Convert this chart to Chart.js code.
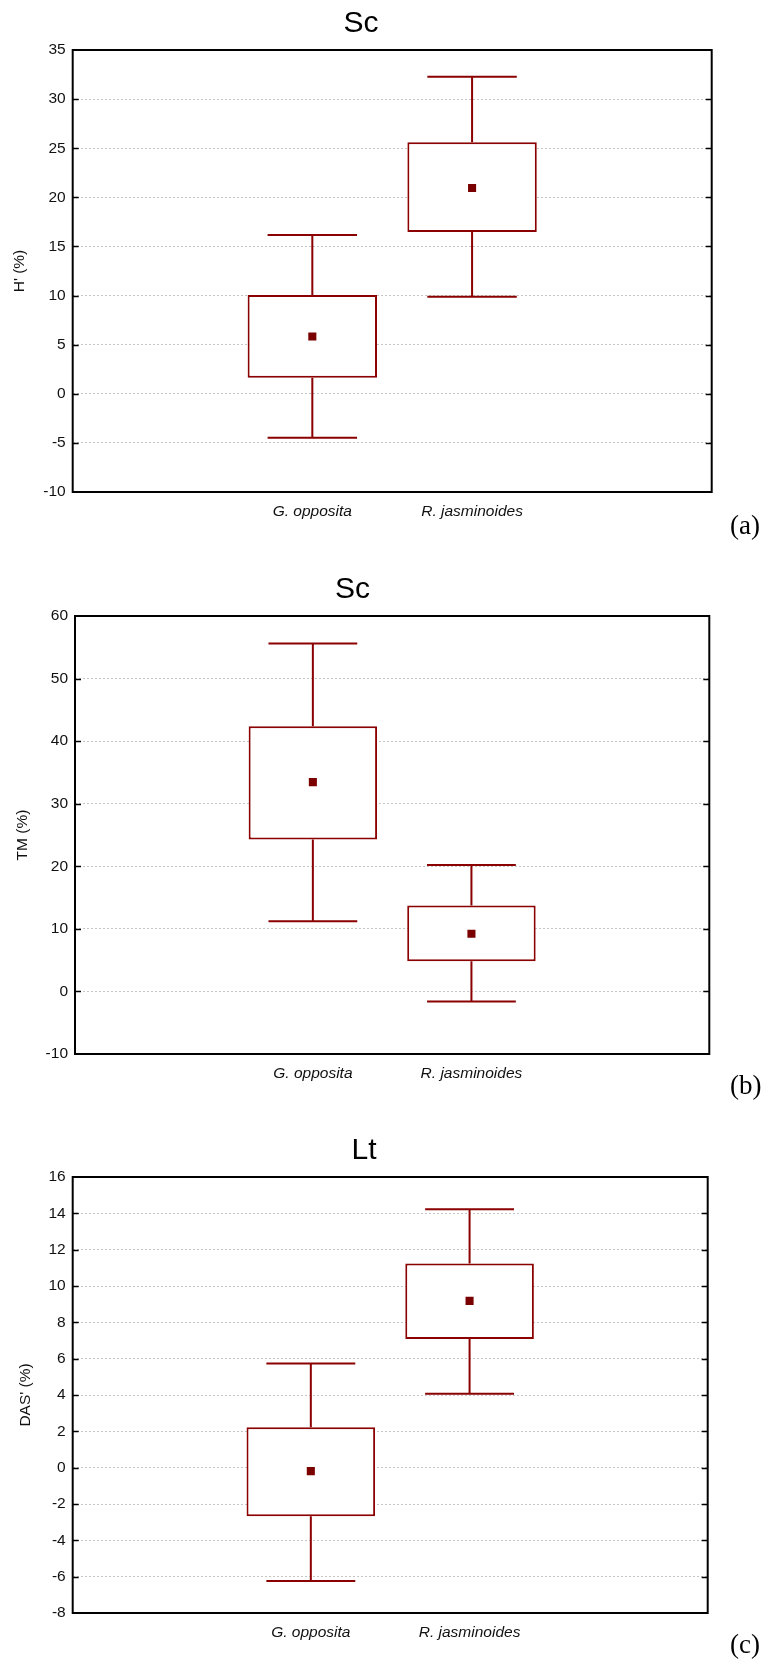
<!DOCTYPE html>
<html>
<head>
<meta charset="utf-8">
<script src="https://cdn.jsdelivr.net/npm/chart.js@4.4.1/dist/chart.umd.min.js"></script>
<style>
  html, body { margin: 0; padding: 0; background: #fff; width: 769px; height: 1660px; overflow: hidden; position: relative; }
  canvas { position: absolute; left: -20px; display: block; }
  .tag { position: absolute; left: 730px; font-family: 'Liberation Serif', 'Times New Roman', serif; font-size: 27px; line-height: 1; color: #000; }
</style>
</head>
<body>
<canvas id="ca" width="789" height="532" style="top:0px"></canvas>
<canvas id="cb" width="789" height="528" style="top:566px"></canvas>
<canvas id="cc" width="789" height="526" style="top:1127px"></canvas>
<div class="tag" style="top:512px">(a)</div>
<div class="tag" style="top:1072px">(b)</div>
<div class="tag" style="top:1631px">(c)</div>
<script>
// ---------- data ----------
const categories = ['G. opposita', 'R. jasminoides'];

// panel (a): Sc, H' (%)
const titleA = 'Sc';
const yLabelA = "H' (%)";
const ticksA = [-10, -5, 0, 5, 10, 15, 20, 25, 30, 35];
const meanA = [5.84, 20.95];
const boxLowA = [1.63, 16.47];
const boxHighA = [10.05, 25.60];
const whiskLowA = [-4.48, 9.88];
const whiskHighA = [16.16, 32.28];

// panel (b): Sc, TM (%)
const titleB = 'Sc';
const yLabelB = 'TM (%)';
const ticksB = [-10, 0, 10, 20, 30, 40, 50, 60];
const meanB = [33.45, 9.22];
const boxLowB = [24.3, 4.84];
const boxHighB = [42.4, 13.74];
const whiskLowB = [11.2, -1.6];
const whiskHighB = [55.6, 20.2];

// panel (c): Lt, DAS' (%)
const titleC = 'Lt';
const yLabelC = "DAS' (%)";
const ticksC = [-8, -6, -4, -2, 0, 2, 4, 6, 8, 10, 12, 14, 16];
const meanC = [-0.19, 9.18];
const boxLowC = [-2.67, 7.08];
const boxHighC = [2.22, 11.24];
const whiskLowC = [-6.24, 4.07];
const whiskHighC = [5.74, 14.23];

// ---------- style / layout ----------
const RED = '#8B0000';
const MEAN = '#7a0000';
const FONT = "'Liberation Sans', Arial, Helvetica, sans-serif";
const CAP_HALF = 0.28;

const frameAndWhiskers = {
  id: 'frameAndWhiskers',
  beforeDatasetsDraw(chart, args, opts) {
    const ctx = chart.ctx, x = chart.scales.x, y = chart.scales.y;
    ctx.save();
    ctx.strokeStyle = RED;
    ctx.lineWidth = 2;
    ctx.lineCap = 'butt';
    opts.boxLow.forEach((_, i) => {
      const cx = x.getPixelForValue(i);
      const l = x.getPixelForValue(i - CAP_HALF), r = x.getPixelForValue(i + CAP_HALF);
      const yHi = y.getPixelForValue(opts.high[i]), yLo = y.getPixelForValue(opts.low[i]);
      const yBh = y.getPixelForValue(opts.boxHigh[i]), yBl = y.getPixelForValue(opts.boxLow[i]);
      ctx.beginPath();
      ctx.moveTo(cx, yBh); ctx.lineTo(cx, yHi);
      ctx.moveTo(l, yHi); ctx.lineTo(r, yHi);
      ctx.moveTo(cx, yBl); ctx.lineTo(cx, yLo);
      ctx.moveTo(l, yLo); ctx.lineTo(r, yLo);
      ctx.stroke();
    });
    ctx.restore();
  },
  afterDraw(chart) {
    const ctx = chart.ctx, a = chart.chartArea, y = chart.scales.y;
    ctx.save();
    ctx.strokeStyle = '#000';
    ctx.lineWidth = 1.5;
    y.ticks.forEach(t => {
      if (t.value === y.min || t.value === y.max) return;
      const py = Math.round(y.getPixelForValue(t.value)) + 0.5;
      ctx.beginPath();
      ctx.moveTo(a.left, py); ctx.lineTo(a.left + 6, py);
      ctx.moveTo(a.right - 6, py); ctx.lineTo(a.right, py);
      ctx.stroke();
    });
    ctx.lineWidth = 2;
    ctx.strokeRect(a.left, a.top, a.right - a.left, a.bottom - a.top);
    ctx.restore();
  }
};

function makePanel(canvasId, title, yLabel, ticks, mean, boxLow, boxHigh, whiskLow, whiskHigh, lay) {
  const W = 789;
  const padR = W - 2 * lay.titleC;
  const rightAxisW = (W - padR) - lay.right;
  new Chart(document.getElementById(canvasId), {
    type: 'bar',
    data: {
      datasets: [
        {
          type: 'scatter',
          data: categories.map((c, i) => ({ x: i, y: mean[i] })),
          pointStyle: 'rect',
          pointRadius: 5.7,
          backgroundColor: MEAN,
          borderWidth: 0,
          order: 0
        },
        {
          type: 'bar',
          data: categories.map((c, i) => ({ x: i, y: [boxLow[i], boxHigh[i]] })),
          backgroundColor: '#ffffff',
          borderColor: RED,
          borderWidth: 2,
          borderSkipped: false,
          barPercentage: 0.81,
          categoryPercentage: 1,
          order: 1
        }
      ]
    },
    options: {
      responsive: false,
      animation: false,
      devicePixelRatio: 1,
      layout: { padding: { left: 0, right: padR, top: 0, bottom: 0 } },
      plugins: {
        legend: { display: false },
        tooltip: { enabled: false },
        title: {
          display: true,
          text: title,
          color: '#000',
          font: { family: FONT, size: 30, weight: 'normal', lineHeight: 1.2 },
          padding: { top: 6, bottom: 8 }
        },
        frameAndWhiskers: { low: whiskLow, high: whiskHigh, boxLow: boxLow, boxHigh: boxHigh }
      },
      scales: {
        x: {
          type: 'linear',
          min: -1.5,
          max: 2.5,
          offset: false,
          grid: { display: false, drawTicks: false },
          border: { display: false },
          afterBuildTicks: s => { s.ticks = categories.map((c, i) => ({ value: i })); },
          afterFit: s => { s.height = 40; },
          ticks: {
            autoSkip: false,
            maxRotation: 0,
            padding: 10,
            color: '#111',
            font: { family: FONT, size: 15.5, style: 'italic' },
            callback: (v, i) => categories[i]
          }
        },
        y: {
          type: 'linear',
          position: 'left',
          min: ticks[0],
          max: ticks[ticks.length - 1],
          afterBuildTicks: s => { s.ticks = ticks.map(v => ({ value: v })); },
          afterFit: s => { s.width = lay.left; },
          grid: {
            drawTicks: false,
            lineWidth: 1,
            color: c => (c.tick && (c.tick.value === ticks[0] || c.tick.value === ticks[ticks.length - 1])) ? 'rgba(0,0,0,0)' : '#c4c4c4'
          },
          border: { display: false, dash: [2, 2] },
          ticks: {
            padding: 7,
            color: '#111',
            font: { family: FONT, size: 15.5 },
            callback: v => String(v)
          },
          title: {
            display: true,
            text: yLabel,
            color: '#111',
            font: { family: FONT, size: 15.5, lineHeight: 1.2 },
            padding: { top: lay.yTitleC - 9.3, bottom: 0 }
          }
        },
        y2: {
          type: 'linear',
          position: 'right',
          display: true,
          grid: { display: false, drawTicks: false },
          border: { display: false },
          ticks: { display: false },
          afterFit: s => { s.width = rightAxisW; }
        }
      }
    },
    plugins: [frameAndWhiskers]
  });
}

makePanel('ca', titleA, yLabelA, ticksA, meanA, boxLowA, boxHighA, whiskLowA, whiskHighA,
  { left: 92.7, right: 731.7, titleC: 381, yTitleC: 39.7 });
makePanel('cb', titleB, yLabelB, ticksB, meanB, boxLowB, boxHighB, whiskLowB, whiskHighB,
  { left: 95, right: 729.3, titleC: 372.5, yTitleC: 42.5 });
makePanel('cc', titleC, yLabelC, ticksC, meanC, boxLowC, boxHighC, whiskLowC, whiskHighC,
  { left: 92.7, right: 727.7, titleC: 384, yTitleC: 45.8 });
</script>
</body>
</html>
